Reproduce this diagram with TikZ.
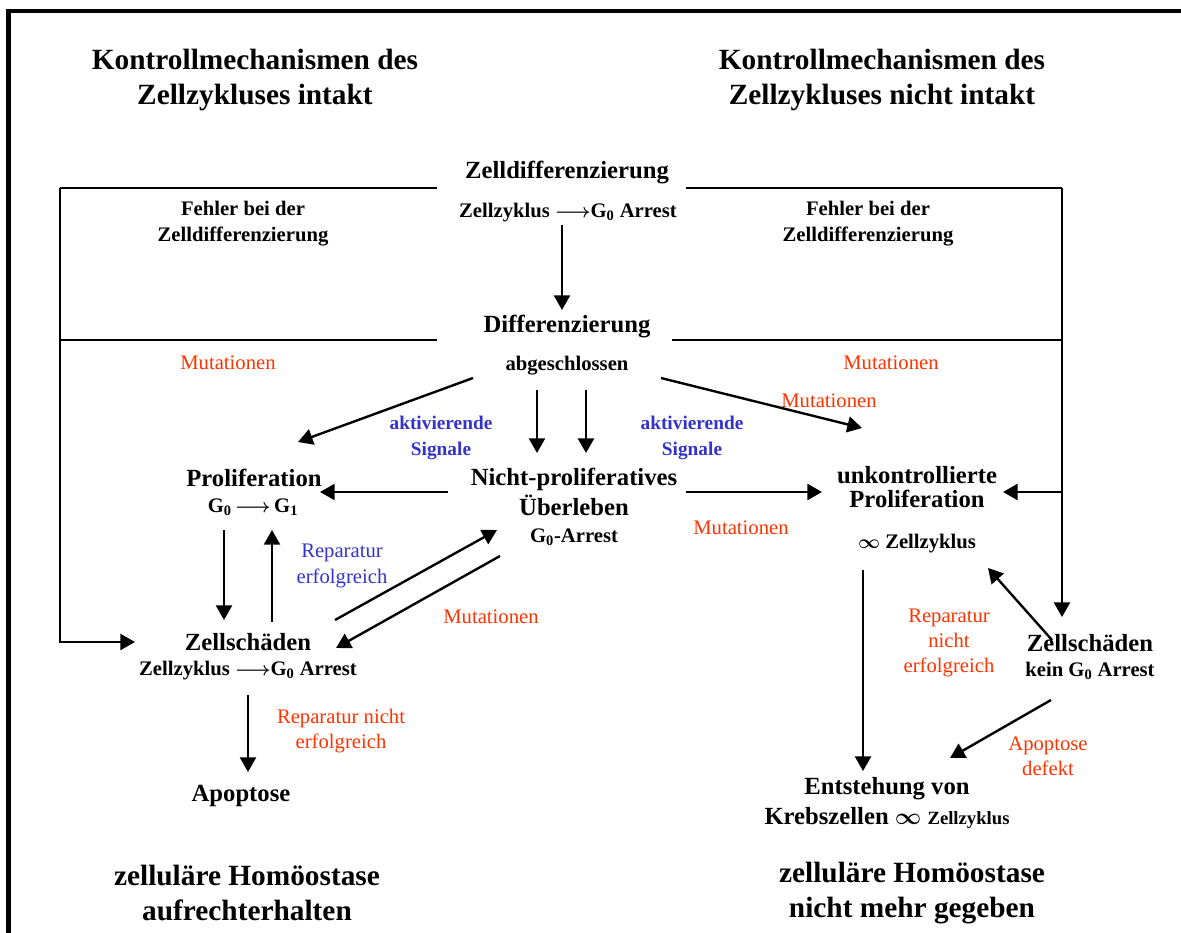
\documentclass[tikz,border=0pt]{standalone}
\usepackage{fontspec}
\setmainfont{Liberation Serif}
\usepackage{tikz}
\usetikzlibrary{arrows.meta,calc}

\definecolor{mutred}{RGB}{255,51,0}
\definecolor{sigblue}{RGB}{51,51,204}

\begin{document}
\begin{tikzpicture}[x=0.75pt,y=-0.75pt,
  every node/.style={inner sep=0pt,align=center},
  title/.style={font=\fontsize{22}{26}\selectfont\bfseries},
  head/.style={font=\fontsize{18.5}{22}\selectfont\bfseries\boldmath},
  sub/.style={font=\fontsize{15.5}{19.5}\selectfont\bfseries\boldmath},
  mut/.style={font=\fontsize{15.5}{19}\selectfont,text=mutred},
  sig/.style={font=\fontsize{14.5}{19.5}\selectfont\bfseries,text=sigblue},
  rep/.style={font=\fontsize{15.5}{19}\selectfont,text=sigblue},
  arr/.style={-{Triangle[length=11pt,width=12pt]},line width=1.8pt},
  fline/.style={line width=2.2pt}]

% Page
\useasboundingbox (0,0) rectangle (1181,932);
\clip (0,0) rectangle (1181,932);
\draw[line width=3.6pt] (8.5,945) -- (8.5,11) -- (1195,11);

% Titles
\node[title] (ttl) at (255,80) {Kontrollmechanismen des\\Zellzykluses intakt};
\node[title] (ttr) at (882,80) {Kontrollmechanismen des\\Zellzykluses nicht intakt};

% Differentiation
\node[head] (zd) at (567,173) {Zelldifferenzierung};
\node[sub] (zdsub) at (568,213) {Zellzyklus $\longrightarrow$G\textsubscript{0} Arrest};
\node[sub] (fl) at (243,224) {Fehler bei der\\Zelldifferenzierung};
\node[sub] (fr) at (868,224) {Fehler bei der\\Zelldifferenzierung};
\node[head] (dif) at (567,327) {Differenzierung};
\node[sub] (abg) at (567,366) {abgeschlossen};

% Labels on the connectors
\node[mut] (mu1) at (228,363) {Mutationen};
\node[mut] (mu2) at (891,363) {Mutationen};
\node[mut] (mu3) at (829,401) {Mutationen};
\node[mut] (mu4) at (741,528) {Mutationen};
\node[mut] (mu5) at (491,617) {Mutationen};
\node[sig] (sg1) at (441,438) {aktivierende\\Signale};
\node[sig] (sg2) at (692,438) {aktivierende\\Signale};

% Middle row
\node[head] (prol) at (254,478) {Proliferation};
\node[sub] (g01) at (253,507) {G\textsubscript{0}\,$\longrightarrow$\,G\textsubscript{1}};
\node[head] (np) at (574,492) {Nicht-proliferatives\\Überleben};
\node[sub] (npsub) at (574,537) {G\textsubscript{0}-Arrest};
\node[head,font=\fontsize{18.5}{17.5}\selectfont\bfseries] (unk) at (917,487) {unkontrollierte\\Proliferation};
\node[sub] (inf) at (917,544) {$\infty$ Zellzyklus};

% Left column
\node[rep] (rep1) at (342,566) {Reparatur\\erfolgreich};
\node[head] (zs1) at (248,642) {Zellschäden};
\node[sub] (zs1sub) at (248,671) {Zellzyklus $\longrightarrow$G\textsubscript{0} Arrest};
\node[mut] (rep2) at (341,731) {Reparatur nicht\\erfolgreich};
\node[head] (apo) at (241,796) {Apoptose};

% Right column
\node[mut] (rep3) at (949,643) {Reparatur\\nicht\\erfolgreich};
\node[head] (zs2) at (1090,643) {Zellschäden};
\node[sub] (zs2sub) at (1090,671) {kein G\textsubscript{0} Arrest};
\node[mut] (apd) at (1048,756) {Apoptose\\defekt};
\node[head] (ent) at (887,789) {Entstehung von};
\node[head] (krebs) at (887,818) {Krebszellen $\infty$ {\fontsize{14}{17}\selectfont Zellzyklus}};

% Bottom
\node[title] (tbl) at (247,893) {zelluläre Homöostase\\aufrechterhalten};
\node[title] (tbr) at (912,893) {zelluläre Homöostase\\nicht mehr gegeben};

% Frame lines
\draw[fline] ($(zd)+(-130,15)$) -- (60,188);
\draw[fline] ($(dif)+(-130,13)$) -- (60,340);
\draw[fline] ($(zd)+(119,15)$) -- (1062,188);
\draw[fline] ($(dif)+(105,13)$) -- (1062,340);
\draw[arr] (60,188) -- (60,642) -- ($(zs1)+(-113,0)$);
\draw[arr] (1062,188) -- ($(zs2)+(-28,-26)$);
\draw[arr] (1062,492) -- ($(unk)+(86,5)$);

% Arrows
\draw[arr] ($(zdsub)+(-6,12)$) -- ($(dif)+(-5,-17)$);
\draw[arr] ($(abg)+(-94,12)$) -- ($(prol)+(44,-36)$);
\draw[arr] ($(abg)+(-30,24)$) -- ($(np)+(-37,-39)$);
\draw[arr] ($(abg)+(19,24)$) -- ($(np)+(12,-39)$);
\draw[arr] ($(abg)+(94,12)$) -- ($(unk)+(-55,-59)$);
\draw[arr] ($(np)+(-126,0)$) -- ($(prol)+(66,14)$);
\draw[arr] ($(np)+(112,0)$) -- ($(unk)+(-95,5)$);
\draw[arr] ($(g01)+(-29,23)$) -- ($(zs1)+(-24,-22)$);
\draw[arr] ($(zs1)+(24,-20)$) -- ($(g01)+(19,23)$);
\draw[arr] ($(zs1)+(87,-22)$) -- ($(npsub)+(-77,-7)$);
\draw[arr] ($(npsub)+(-74,19)$) -- ($(zs1)+(88,6)$);
\draw[arr] ($(zs1sub)+(0,24)$) -- ($(apo)+(7,-24)$);
\draw[arr] ($(inf)+(-54,26)$) -- ($(ent)+(-24,-18)$);
\draw[arr] ($(zs2)+(-38,-3)$) -- ($(inf)+(71,24)$);
\draw[arr] ($(zs2sub)+(-39,29)$) -- ($(ent)+(63,-31)$);

\end{tikzpicture}
\end{document}
